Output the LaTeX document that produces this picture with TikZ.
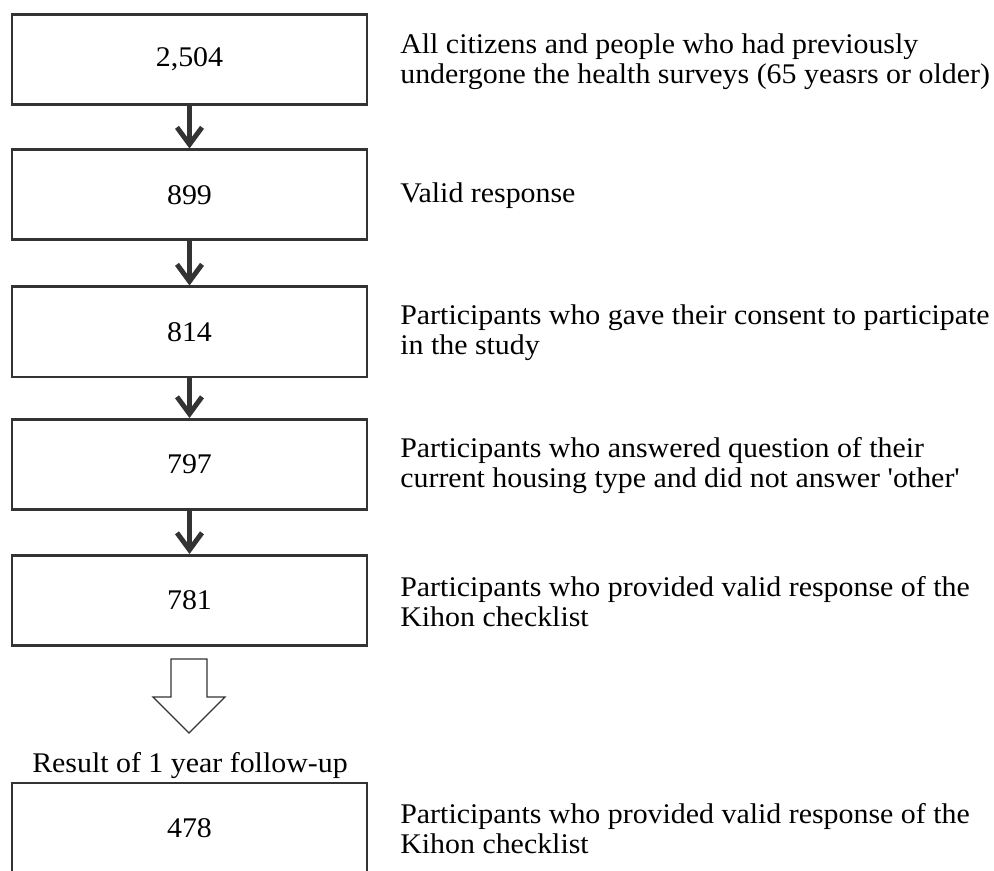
\documentclass[tikz,border=0pt]{standalone}
\usepackage{fontspec}
\setmainfont{Liberation Serif}[Ligatures=TeXOff, FakeStretch=1.05]
\usetikzlibrary{positioning,arrows.meta,calc}
\tikzset{
  countbox/.style={
    draw=black!80, rectangle, minimum height=18mm, minimum width=71mm, line width=1.7pt,
    font=\fontsize{16.2}{18}\selectfont
  },
  note/.style={
    anchor=west, align=left, inner sep=0mm,
    font=\fontsize{16.2}{17.2}\selectfont
  },
  flow/.style={
    draw=black!80, line width=2.8pt, -{Straight Barb[length=3.4mm,width=5mm]}
  }
}
\begin{document}
\begin{tikzpicture}
  \useasboundingbox (0,0) rectangle (19.88,-17.42);
  % boxes
  \node[countbox] (n2504) at (3.79, -1.19) {2,504};
  \node[countbox] (n899) at (3.79, -3.90) {899};
  \node[countbox] (n814) at (3.79, -6.64) {814};
  \node[countbox] (n797) at (3.79, -9.29) {797};
  \node[countbox] (n781) at (3.79, -12.01) {781};
  \node[countbox] (n478) at (3.79, -16.56) {478};

  \draw[flow] (n2504) -- (n899);
  \draw[flow] (n899) -- (n814);
  \draw[flow] (n814) -- (n797);
  \draw[flow] (n797) -- (n781);

  % follow-up
  \coordinate (hollow) at (3.78, -13.18);
  \draw[black!80, line width=0.8pt, line join=miter]
    (hollow) ++(-0.36,0) -- ++(0,-0.76) -- ++(-0.36,0) -- ++(0.72,-0.72)
    -- ++(0.72,0.72) -- ++(-0.36,0) -- ++(0,0.76) -- cycle;
  \node[font=\fontsize{16.2}{18}\selectfont, inner sep=0mm] (followup) at (3.80, -15.32) {Result of 1 year follow-up};

  % notes
  \node[note] (t2504) at (8.0, -1.24) {All citizens and people who had previously\\undergone the health surveys (65 yeasrs or older)};
  \node[note] (t899) at (8.0, -3.92) {Valid response};
  \node[note] (t814) at (8.0, -6.66) {Participants who gave their consent to participate\\in the study};
  \node[note] (t797) at (8.0, -9.31) {Participants who answered question of their\\current housing type and did not answer 'other'};
  \node[note] (t781) at (8.0, -12.03) {Participants who provided valid response of the\\Kihon checklist};
  \node[note] (t478) at (8.0, -16.58) {Participants who provided valid response of the\\Kihon checklist};
\end{tikzpicture}
\end{document}
